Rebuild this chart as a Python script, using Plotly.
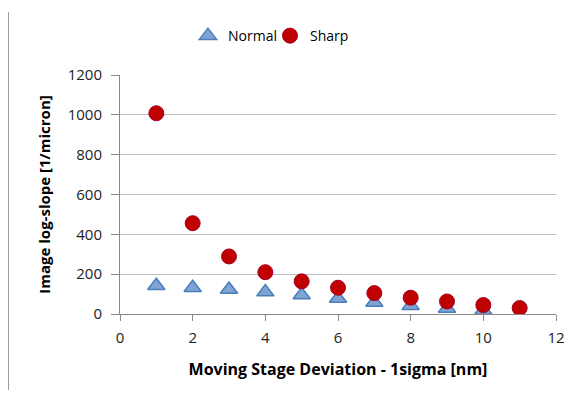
import plotly.graph_objects as go

x_normal = [1, 2, 3, 4, 5, 6, 7, 8, 9, 10]
y_normal = [142, 132, 123, 110, 95, 78, 58, 42, 28, 18]
x_sharp = [1, 2, 3, 4, 5, 6, 7, 8, 9, 10, 11]
y_sharp = [1008, 456, 289, 210, 164, 132, 105, 82, 63, 45, 30]

fig = go.Figure()
fig.add_trace(go.Scatter(
    x=x_normal, y=y_normal, mode="markers", name="Normal",
    marker=dict(symbol="triangle-up", size=15, color="#7FA4D3",
                line=dict(color="#4A7EBB", width=1.5)),
))
fig.add_trace(go.Scatter(
    x=x_sharp, y=y_sharp, mode="markers", name="Sharp",
    marker=dict(symbol="circle", size=15, color="#C00000",
                line=dict(color="#A50021", width=1)),
))

font_family = "Open Sans, Noto Sans, sans-serif"

fig.update_layout(
    width=584, height=400,
    margin=dict(l=112, r=36, t=67, b=94, autoexpand=False),
    paper_bgcolor="white", plot_bgcolor="white",
    font=dict(family=font_family, size=13, color="#000000"),
    showlegend=True,
    legend=dict(orientation="h", x=0.344, xanchor="center", y=1.163, yanchor="middle",
                font=dict(size=14), itemwidth=30, entrywidth=37,
                bgcolor="rgba(0,0,0,0)"),
    xaxis=dict(
        range=[0, 12], dtick=2, tick0=0,
        showgrid=False, zeroline=False,
        showline=True, linecolor="#888888", linewidth=1,
        ticks="outside", ticklen=6, tickcolor="#888888",
        tickfont=dict(size=15, color="#222222"),
        ticklabelstandoff=4,
        title=dict(text="<b>Moving Stage Deviation - 1sigma [nm]</b>",
                   font=dict(size=16), standoff=17),
    ),
    yaxis=dict(
        range=[0, 1200], dtick=200, tick0=0,
        showgrid=True, gridcolor="#BFBFBF", gridwidth=1, zeroline=False,
        showline=True, linecolor="#888888", linewidth=1,
        ticks="outside", ticklen=8, tickcolor="#888888",
        tickfont=dict(size=15, color="#222222"),
        ticklabelstandoff=6,
        title=dict(text="<b>Image log-slope [1/micron]</b>",
                   font=dict(size=15), standoff=13),
    ),
)

# left page border line
fig.add_shape(type="line", xref="paper", yref="paper",
              x0=-0.257, x1=-0.257, y0=-0.318, y1=1.264,
              line=dict(color="#999999", width=2))

fig.write_html("out.html")
